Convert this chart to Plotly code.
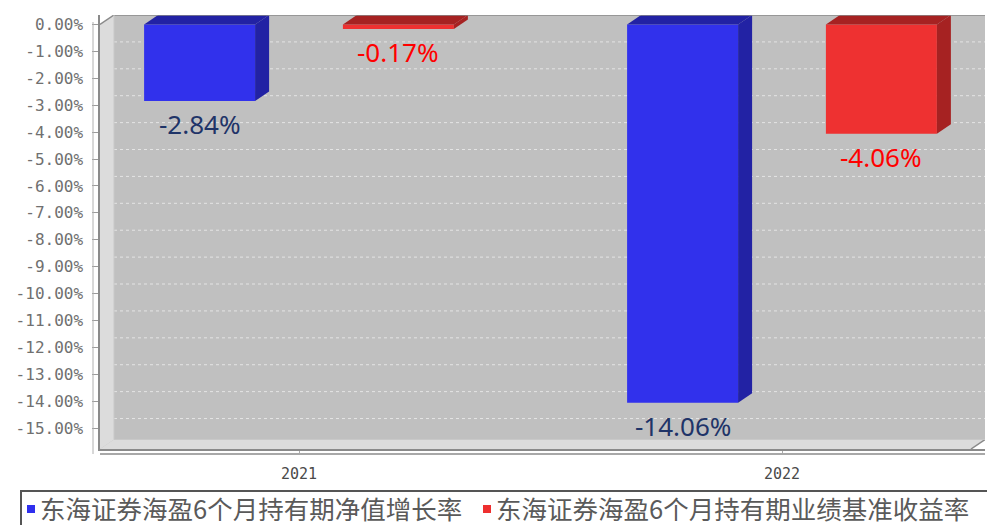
import plotly.graph_objects as go

# ---------------- data ----------------
categories = ["2021", "2022"]
series_names = ["东海证券海盈6个月持有期净值增长率", "东海证券海盈6个月持有期业绩基准收益率"]
fund_growth = [-2.84, -14.06]
benchmark_return = [-0.17, -4.06]
ytick_vals = [0, -1, -2, -3, -4, -5, -6, -7, -8, -9, -10, -11, -12, -13, -14, -15]
ytick_text = ["0.00%", "-1.00%", "-2.00%", "-3.00%", "-4.00%", "-5.00%", "-6.00%", "-7.00%",
              "-8.00%", "-9.00%", "-10.00%", "-11.00%", "-12.00%", "-13.00%", "-14.00%", "-15.00%"]

# ---------------- style ----------------
W, H = 987, 525
ML, MR, MT, MB = 100, 2, 15, 76
PW, PH = W - ML - MR, H - MT - MB
X_RANGE = [-0.412, 1.4203]
Y_RANGE = [-15.78, 0.353]
DX, DY = 0.029, 0.353           # 3D depth in data units
BAR_W = 0.2298
OFFSETS = [-0.3207, 0.0909]
FRONT = ["#3131ec", "#ee3131"]
SIDE = ["#2222a4", "#a62222"]
LABEL_COL = ["#1f3468", "#ff0000"]
LEGEND_COL = ["#2f2fee", "#ee2f2f"]


def PX(px):
    return (px - ML) / PW


def PY(py):
    return (MT + PH - py) / PH


series = [fund_growth, benchmark_return]
xs = list(range(len(categories)))

fig = go.Figure()
annotations = []
for s, vals in enumerate(series):
    off = OFFSETS[s]
    fig.add_trace(go.Bar(x=xs, y=vals, width=BAR_W, offset=off, name=series_names[s],
                         marker=dict(color=FRONT[s], line=dict(width=0)), showlegend=False,
                         hoverinfo="y"))
    for i, v in zip(xs, vals):
        xl = i + off
        xr = xl + BAR_W
        # side face
        fig.add_trace(go.Scatter(x=[xr, xr + DX, xr + DX, xr, xr], y=[0, DY, v + DY, v, 0],
                                 fill="toself", fillcolor=SIDE[s], mode="lines",
                                 line=dict(width=0, color=SIDE[s]), showlegend=False,
                                 hoverinfo="skip"))
        # top face
        fig.add_trace(go.Scatter(x=[xl, xl + DX, xr + DX, xr, xl], y=[0, DY, DY, 0, 0],
                                 fill="toself", fillcolor=SIDE[s], mode="lines",
                                 line=dict(width=0, color=SIDE[s]), showlegend=False,
                                 hoverinfo="skip"))
        annotations.append(dict(x=xl + BAR_W / 2, y=v, xref="x", yref="y", yshift=-23,
                                text=f"{v:.2f}%", showarrow=False, yanchor="middle",
                                font=dict(family="Noto Sans", size=26, color=LABEL_COL[s])))

x0, x1 = X_RANGE
ymin = Y_RANGE[0]
shapes = []
# left wall
shapes.append(dict(type="path", xref="x", yref="y", layer="below",
                   path=f"M{x0},{0} L{x0+DX},{DY} L{x0+DX},{ymin+DY} L{x0},{ymin} Z",
                   fillcolor="#dcdcdc", line=dict(width=0)))
shapes.append(dict(type="path", xref="x", yref="y", layer="below",
                   path=f"M{x0},{0} L{x0},{DY} L{x0+DX},{DY} Z",
                   fillcolor="white", line=dict(width=0)))
# floor
shapes.append(dict(type="path", xref="x", yref="y", layer="below",
                   path=f"M{x0},{ymin} L{x0+DX},{ymin+DY} L{x1},{ymin+DY} L{x1-DX},{ymin} Z",
                   fillcolor="#dcdcdc", line=dict(width=0)))
shapes.append(dict(type="path", xref="x", yref="y", layer="below",
                   path=f"M{x1-DX},{ymin} L{x1},{ymin+DY} L{x1},{ymin} Z",
                   fillcolor="white", line=dict(width=0)))
# gridlines on back wall
for v in ytick_vals[1:]:
    shapes.append(dict(type="line", xref="x", yref="y", layer="below",
                       x0=x0 + DX, x1=x1, y0=v + DY, y1=v + DY,
                       line=dict(color="#e4e4e4", width=1, dash="3px,3px")))
# edges
shapes.append(dict(type="line", xref="x", yref="y", x0=x0 + DX, x1=x1, y0=DY, y1=DY,
                   line=dict(color="#8a8a8a", width=1.5)))
shapes.append(dict(type="line", xref="x", yref="y", x0=x0, x1=x0 + DX, y0=0, y1=DY,
                   line=dict(color="#8a8a8a", width=1.5)))
shapes.append(dict(type="line", xref="x", yref="y", x0=x1 - DX, x1=x1, y0=ymin, y1=ymin + DY,
                   line=dict(color="#8a8a8a", width=1.5)))
shapes.append(dict(type="line", xref="x", yref="y", x0=x0 + DX, x1=x1, y0=ymin + DY, y1=ymin + DY,
                   line=dict(color="#c8c8c8", width=1)))
shapes.append(dict(type="line", xref="x", yref="y", x0=x0 + DX, x1=x0 + DX, y0=ymin + DY, y1=DY,
                   line=dict(color="#c8c8c8", width=1)))
# second axis rule below floor
shapes.append(dict(type="line", xref="paper", yref="paper", x0=0, x1=PX(985), y0=PY(454), y1=PY(454),
                   line=dict(color="#a8a8a8", width=2)))
# thin y rule
shapes.append(dict(type="line", xref="paper", yref="paper", x0=PX(93), x1=PX(93), y0=PY(454), y1=PY(22),
                   line=dict(color="#b0b0b0", width=1)))

# legend (manual)
shapes.append(dict(type="rect", xref="paper", yref="paper", x0=PX(21), x1=PX(1010),
                   y0=PY(545), y1=PY(491), line=dict(color="#555555", width=2)))
legend_sq_x = [27, 483]
legend_tx_x = [38, 494]
for s in range(len(series_names)):
    shapes.append(dict(type="rect", xref="paper", yref="paper",
                       x0=PX(legend_sq_x[s]), x1=PX(legend_sq_x[s] + 8),
                       y0=PY(513), y1=PY(505), fillcolor=LEGEND_COL[s], line=dict(width=0)))
    annotations.append(dict(x=PX(legend_tx_x[s]), y=PY(508), xref="paper", yref="paper",
                            xanchor="left", yanchor="middle", showarrow=False,
                            text=series_names[s],
                            font=dict(family="Noto Sans CJK SC", size=25.5, color="#5a5a5a")))

fig.update_layout(
    width=W, height=H, autosize=False,
    margin=dict(l=ML, r=MR, t=MT, b=MB),
    plot_bgcolor="#c0c0c0", paper_bgcolor="white",
    barmode="overlay", showlegend=False,
    shapes=shapes, annotations=annotations,
    xaxis=dict(range=X_RANGE, tickvals=xs, ticktext=categories, showgrid=False, zeroline=False,
               showline=True, linecolor="#8a8a8a", linewidth=2, ticks="outside", ticklen=4,
               tickcolor="#aaaaaa", ticklabelstandoff=6,
               tickfont=dict(family="DejaVu Sans Mono", size=15, color="#4a4a4a")),
    yaxis=dict(range=Y_RANGE, tickvals=ytick_vals, ticktext=ytick_text, showgrid=False,
               zeroline=False, showline=True, linecolor="#8a8a8a", linewidth=1.5,
               ticks="outside", ticklen=6, tickcolor="#9a9a9a", ticklabelstandoff=6,
               tickfont=dict(family="DejaVu Sans Mono", size=16, color="#707070")),
)

fig.write_html("out.html", config={"displayModeBar": False},
               post_script="document.body.style.margin='0px';document.body.style.overflow='hidden';")
